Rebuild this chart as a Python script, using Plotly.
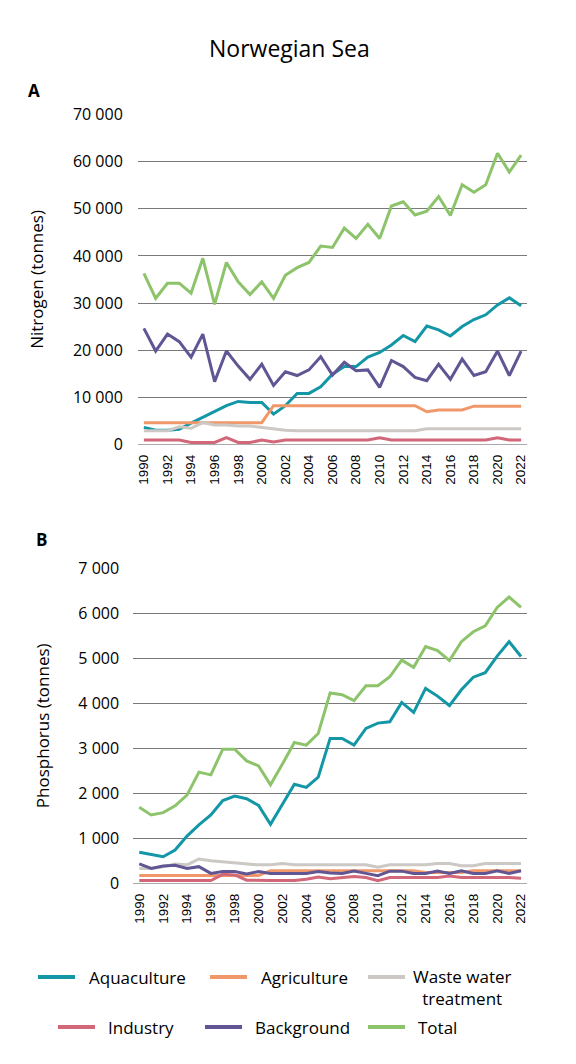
import plotly.graph_objects as go

years = list(range(1990, 2023))
xtick_years = list(range(1990, 2023, 2))

series_names = ["Aquaculture", "Agriculture", "Waste water<br>treatment", "Industry", "Background", "Total"]
series_colors = ["#1397a7", "#f0986a", "#ccc8c4", "#d2677a", "#625594", "#8dc46b"]

# Nitrogen (tonnes)
n_aquaculture = [3600, 3000, 3000, 3200, 4500, 5700, 6900, 8200, 9100, 8900, 8900, 6400, 8200,
                 10800, 10800, 12200, 14900, 16500, 16500, 18500, 19500, 21100, 23100, 21800,
                 25100, 24300, 23000, 25000, 26500, 27500, 29600, 31100, 29400]
n_agriculture = [4600] * 11 + [8200] * 13 + [6900] + [7300] * 3 + [8100] * 5
n_wastewater = [2900, 2900, 2900, 3700, 3400, 4600, 4100, 4100, 3900, 3900, 3600, 3200, 3000] \
    + [2900] * 11 + [3300] * 9
n_industry = [900, 900, 900, 900, 400, 400, 400, 1400, 400, 400, 900, 500, 900,
              900, 900, 900, 900, 900, 900, 900, 1400, 900, 900, 900, 900, 900, 900,
              900, 900, 900, 1400, 900, 900]
n_background = [24600, 19800, 23400, 21800, 18500, 23400, 13300, 19800, 16600, 13800, 17000,
                12500, 15400, 14600, 15800, 18600, 14700, 17400, 15600, 15800, 12100, 17800,
                16500, 14200, 13500, 17000, 13800, 18100, 14600, 15400, 19800, 14600, 19800]
n_total = [36300, 31000, 34200, 34200, 32100, 39500, 29700, 38600, 34500, 31800, 34500, 31000,
           35900, 37500, 38600, 42100, 41800, 45900, 43700, 46700, 43700, 50600, 51500, 48700,
           49500, 52600, 48600, 55100, 53500, 55100, 61800, 57800, 61400]

# Phosphorus (tonnes)
p_aquaculture = [690, 640, 590, 740, 1050, 1300, 1520, 1840, 1940, 1880, 1730, 1310, 1740,
                 2200, 2130, 2360, 3220, 3220, 3070, 3440, 3560, 3590, 4020, 3800, 4330, 4160,
                 3950, 4300, 4580, 4680, 5050, 5370, 5040]
p_agriculture = [175] * 11 + [280] * 13 + [240] * 4 + [280] * 5
p_wastewater = [330, 330, 370, 430, 410, 540, 500, 480, 460, 440, 410, 410, 440, 410, 410, 410,
                410, 410, 410, 410, 360, 410, 410, 410, 410, 440, 440, 390, 390, 440, 440, 440, 440]
p_industry = [60] * 7 + [200, 185, 70, 60, 60, 60, 60, 90, 140, 100, 130, 150, 130, 60, 130, 130,
                         130, 130, 130, 160, 130, 130, 130, 130, 130, 110]
p_background = [430, 330, 385, 400, 330, 370, 220, 260, 260, 210, 260, 220, 220, 220, 220, 260,
                230, 220, 270, 220, 170, 270, 270, 220, 220, 270, 220, 280, 220, 220, 280, 220, 280]
p_total = [1690, 1520, 1570, 1720, 1960, 2470, 2410, 2980, 2980, 2720, 2610, 2190, 2650, 3130,
           3070, 3330, 4230, 4190, 4060, 4390, 4390, 4590, 4960, 4800, 5260, 5170, 4950, 5370,
           5590, 5720, 6130, 6360, 6130]

n_series = [n_aquaculture, n_agriculture, n_wastewater, n_industry, n_background, n_total]
p_series = [p_aquaculture, p_agriculture, p_wastewater, p_industry, p_background, p_total]

W, H = 576, 1064


def px_x(v):
    return v / W


def px_y(v):
    return 1 - v / H


fig = go.Figure()
for name, color, ys in zip(series_names, series_colors, n_series):
    fig.add_trace(go.Scatter(x=years, y=ys, name=name, mode="lines",
                             line=dict(color=color, width=3), showlegend=False,
                             xaxis="x", yaxis="y"))
for name, color, ys in zip(series_names, series_colors, p_series):
    fig.add_trace(go.Scatter(x=years, y=ys, name=name, mode="lines",
                             line=dict(color=color, width=3), showlegend=False,
                             xaxis="x2", yaxis="y2"))

axis_font = dict(family="Open Sans", size=17, color="#000")
ytick_font = dict(family="Open Sans", size=16, color="#000")
xtick_font = dict(family="Liberation Sans", size=13.5, color="#000")
grid = "#7a7a7a"

common_x = dict(range=[1989.5, 2022.5], tickmode="array", tickvals=xtick_years, tickangle=-90,
                tickfont=xtick_font, showgrid=False, zeroline=False, showline=False,
                ticks="outside", ticklen=4, tickcolor="rgba(0,0,0,0)", automargin=False)
common_y = dict(tickformat=",d", tickfont=ytick_font, showgrid=True, gridcolor=grid,
                griddash="solid", gridwidth=1.2, zeroline=True, zerolinecolor="#aaaaaa",
                zerolinewidth=1.2, showline=False, ticks="outside", tickcolor="rgba(0,0,0,0)",
                automargin=False)

fig.update_layout(
    template="none",
    width=W, height=H,
    margin=dict(l=0, r=0, t=0, b=0),
    paper_bgcolor="white", plot_bgcolor="white",
    separators=". ",
    showlegend=False,
    font=dict(family="Open Sans", color="#000"),
    xaxis=dict(domain=[px_x(138), px_x(527)], anchor="y", **common_x),
    xaxis2=dict(domain=[px_x(133.3), px_x(527)], anchor="y2", **common_x),
    yaxis=dict(domain=[px_y(444.3), px_y(114.6)], anchor="x", range=[0, 70000],
               tickmode="linear", tick0=0, dtick=10000, ticklen=11,
               title=dict(text="Nitrogen (tonnes)", font=axis_font, standoff=24),
               **common_y),
    yaxis2=dict(domain=[px_y(883.3), px_y(568.3)], anchor="x2", range=[0, 7000],
                tickmode="linear", tick0=0, dtick=1000, ticklen=10,
                title=dict(text="Phosphorus (tonnes)", font=axis_font, standoff=24),
                **common_y),
)

annotations = [
    dict(text="Norwegian Sea", x=px_x(289), y=px_y(48), font=dict(family="Open Sans", size=23, color="#000"),
         xanchor="center"),
    dict(text="<b>A</b>", x=px_x(34), y=px_y(90), font=dict(family="Open Sans", size=17, color="#000"),
         xanchor="center"),
    dict(text="<b>B</b>", x=px_x(41), y=px_y(539), font=dict(family="Open Sans", size=17, color="#000"),
         xanchor="center"),
]

# Manual legend: swatch left x, row center y, text left x
leg_layout = [(38, 977, 87), (210, 977, 259), (368, 977, 411), (58, 1027, 106), (205, 1027, 253), (368, 1027, 416)]
shapes = []
for name, color, (sx, sy, tx) in zip(series_names, series_colors, leg_layout):
    shapes.append(dict(type="line", xref="paper", yref="paper", x0=px_x(sx), x1=px_x(sx + 37),
                       y0=px_y(sy), y1=px_y(sy), line=dict(color=color, width=4)))
    if "<br>" in name:
        annotations.append(dict(text=name, x=px_x(tx), y=px_y(sy - 14), yanchor="top", xanchor="left",
                                align="center", font=dict(family="Open Sans", size=17, color="#000")))
    else:
        annotations.append(dict(text=name, x=px_x(tx), y=px_y(sy), xanchor="left",
                                font=dict(family="Open Sans", size=17, color="#000")))

for a in annotations:
    a.setdefault("yanchor", "middle")
    a.update(xref="paper", yref="paper", showarrow=False)

fig.update_layout(annotations=annotations, shapes=shapes)

fig.write_html("out.html", config={"displayModeBar": False},
               post_script="document.body.style.margin='0px';")
